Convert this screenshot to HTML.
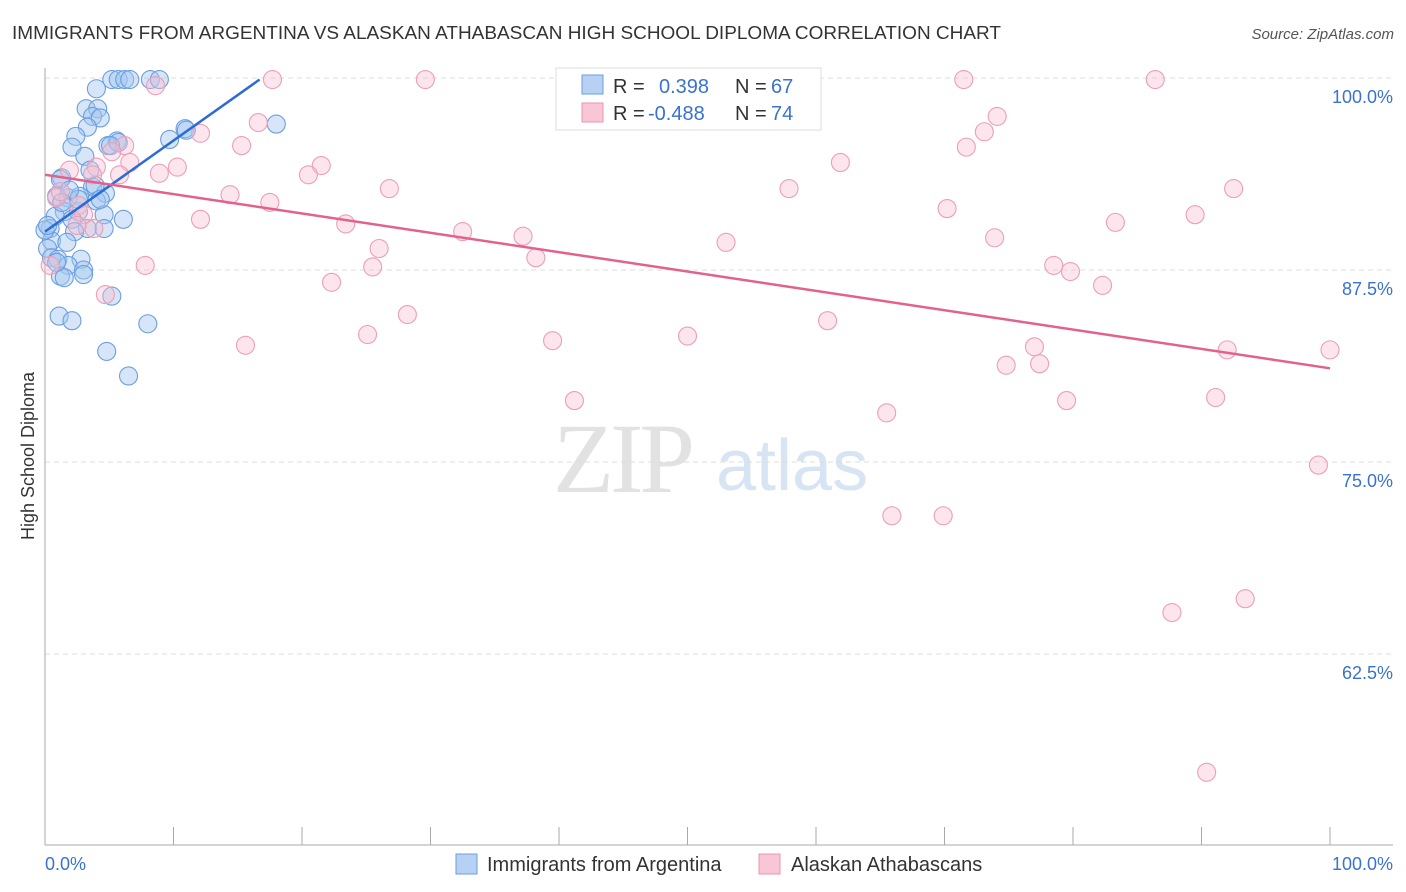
<!DOCTYPE html>
<html><head><meta charset="utf-8"><style>
body{margin:0;background:#fff;font-family:"Liberation Sans",sans-serif;}
svg{display:block}
</style></head><body>
<svg id="chart" width="1406" height="892">
<text x="12" y="39" font-size="18" fill="#333" textLength="989" lengthAdjust="spacingAndGlyphs">IMMIGRANTS FROM ARGENTINA VS ALASKAN ATHABASCAN HIGH SCHOOL DIPLOMA CORRELATION CHART</text>
<text x="1394" y="39" font-size="15" fill="#555" font-style="italic" text-anchor="end">Source: ZipAtlas.com</text>
<g>
<text x="553" y="492" font-size="100" fill="#e2e2e2" font-family="Liberation Serif,serif" letter-spacing="-4">ZIP</text>
<text x="716" y="490" font-size="72" fill="#d6e4f4">atlas</text>
</g>
<g id="grid"></g>
<g id="axes"></g>
<g id="points"></g>
<g id="trends"></g>
<text transform="translate(34,456) rotate(-90)" font-size="18" fill="#333" text-anchor="middle">High School Diploma</text>
<text x="45" y="870" font-size="18" fill="#3a72d0">0.0%</text>
<text x="1393" y="870" font-size="18" fill="#3a72d0" text-anchor="end">100.0%</text>
<g>
<rect x="556" y="68" width="265" height="62" fill="#fff" stroke="#ddd"/>
<rect x="582" y="75" width="21" height="19" fill="#b7d1f4" stroke="#6a9ee0"/>
<rect x="582" y="103" width="21" height="19" fill="#f9c6d5" stroke="#e995ae"/>
<text x="613" y="93" font-size="20" fill="#333">R =</text><text x="659" y="93" font-size="20" fill="#3a72d0">0.398</text>
<text x="735" y="93" font-size="20" fill="#333">N =</text><text x="771" y="93" font-size="20" fill="#3a72d0">67</text>
<text x="613" y="120" font-size="20" fill="#333">R =</text><text x="648" y="120" font-size="20" fill="#3a72d0">-0.488</text>
<text x="735" y="120" font-size="20" fill="#333">N =</text><text x="771" y="120" font-size="20" fill="#3a72d0">74</text>
</g>
<g>
<rect x="456" y="854" width="21" height="20" fill="#b7d1f4" stroke="#6a9ee0"/>
<text x="487" y="871" font-size="20" fill="#333">Immigrants from Argentina</text>
<rect x="759" y="854" width="21" height="20" fill="#f9c6d5" stroke="#e995ae"/>
<text x="791" y="871" font-size="20" fill="#333">Alaskan Athabascans</text>
</g>
</svg>
<script>
const yTicks=[100,87.5,75,62.5];
const yTickLabels=["100.0%","87.5%","75.0%","62.5%"];
const xTicks=[0,10,20,30,40,50,60,70,80,90,100];
const blueX=[5.2,5.7,6.2,6.6,8.2,8.9,4.0,3.2,4.1,3.7,4.3,3.3,5.6,2.4,4.9,2.1,3.1,1.3,3.7,4.7,0.9,1.8,2.7,4.0,1.5,2.6,4.6,0.8,2.1,6.1,0.4,3.3,4.6,2.3,0.5,1.7,0.2,0.5,1.0,2.8,1.8,3.0,1.2,1.5,3.0,5.2,1.1,2.1,8.0,4.8,6.5,9.7,10.9,11.0,18.0,5.7,5.1,2.6,3.9,0.9,0.0,0.2,1.2,3.5,1.9,4.3,1.3];
const blueY=[99.9,99.9,99.9,99.9,99.9,99.9,99.3,98.0,98.0,97.5,97.4,96.8,95.9,96.2,95.6,95.5,94.9,93.5,92.9,92.5,92.3,92.2,92.3,92.0,91.3,91.3,91.1,91.0,90.8,90.8,90.2,90.2,90.2,90.0,89.4,89.3,88.9,88.3,88.2,88.2,87.8,87.5,87.1,87.0,87.2,85.8,84.5,84.2,84.0,82.2,80.6,96.0,96.7,96.6,97.0,95.8,95.6,92.1,93.0,88.0,90.1,90.4,93.4,94.0,92.7,92.1,91.9];
const pinkX=[17.7,29.6,71.5,86.4,8.6,74.1,73.1,12.1,16.6,15.3,71.7,6.2,5.2,6.6,10.3,8.9,21.5,20.5,61.9,4.0,1.9,5.8,26.8,57.9,92.5,14.4,17.5,0.9,2.6,70.2,89.5,12.1,23.4,83.3,32.5,37.2,3.8,53.0,73.9,26.0,38.2,7.8,25.5,78.5,79.8,0.4,22.3,82.3,4.7,28.2,60.9,25.1,15.6,39.5,50.0,77.0,92.0,100.0,74.8,77.4,41.2,79.5,91.1,65.5,99.1,65.9,69.9,87.7,93.4,90.4,3.7,1.2,3.0,2.5];
const pinkY=[99.9,99.9,99.9,99.9,99.5,97.5,96.5,96.4,97.1,95.6,95.5,95.6,95.2,94.5,94.2,93.8,94.3,93.7,94.5,94.2,94.0,93.7,92.8,92.8,92.8,92.4,91.9,92.2,91.7,91.5,91.1,90.8,90.5,90.6,90.0,89.7,90.2,89.3,89.6,88.9,88.3,87.8,87.7,87.8,87.4,87.8,86.7,86.5,85.9,84.6,84.2,83.3,82.6,82.9,83.2,82.5,82.3,82.3,81.3,81.4,79.0,79.0,79.2,78.2,74.8,71.5,71.5,65.2,66.1,54.8,93.7,92.6,91.1,90.4];
const blueTrendX=[0,16.7];
const blueTrendY=[90.0,99.9];
const pinkTrendX=[0,100];
const pinkTrendY=[93.7,81.1];

const NS="http://www.w3.org/2000/svg";
const xs=v=>45+v*12.85;
const ys=v=>78+(100-v)*15.36;
function mk(tag,attrs,parent){const e=document.createElementNS(NS,tag);for(const k in attrs)e.setAttribute(k,attrs[k]);parent.appendChild(e);return e;}
const grid=document.getElementById('grid'),axes=document.getElementById('axes'),pts=document.getElementById('points'),tr=document.getElementById('trends');
yTicks.forEach((t,i)=>{
  const l=mk('line',{x1:45,x2:1393,y1:ys(t),y2:ys(t),stroke:'#ddd','stroke-dasharray':'5,4'},grid);
  
  
  const tx=mk('text',{x:1393,y:ys(t)+25,'font-size':18,fill:'#3a72d0','text-anchor':'end'},grid);
  tx.textContent=yTickLabels[i];
  
  
});
const ya=mk('line',{x1:45,x2:45,y1:68,y2:845,stroke:'#aaa'},axes);


const xa=mk('line',{x1:45,x2:1393,y1:845,y2:845,stroke:'#aaa'},axes);


xTicks.forEach(t=>{
  const l=mk('line',{x1:xs(t),x2:xs(t),y1:827,y2:845,stroke:'#aaa'},axes);
  
  
});
blueX.forEach((x,i)=>{
  const c=mk('circle',{cx:xs(x),cy:ys(blueY[i]),r:9,fill:'rgba(164,199,240,0.45)',stroke:'#6a9ee0','stroke-width':1.1},pts);
  
  
});
pinkX.forEach((x,i)=>{
  const c=mk('circle',{cx:xs(x),cy:ys(pinkY[i]),r:9,fill:'rgba(248,190,208,0.4)',stroke:'#ec9fb6','stroke-width':1.1},pts);
  
  
});
const bl=mk('line',{x1:xs(blueTrendX[0]),y1:ys(blueTrendY[0]),x2:xs(blueTrendX[1]),y2:ys(blueTrendY[1]),stroke:'#2a6bd6','stroke-width':2.5},tr);


const pl=mk('line',{x1:xs(pinkTrendX[0]),y1:ys(pinkTrendY[0]),x2:xs(pinkTrendX[1]),y2:ys(pinkTrendY[1]),stroke:'#e2628d','stroke-width':2.5},tr);


</script>
</body></html>
